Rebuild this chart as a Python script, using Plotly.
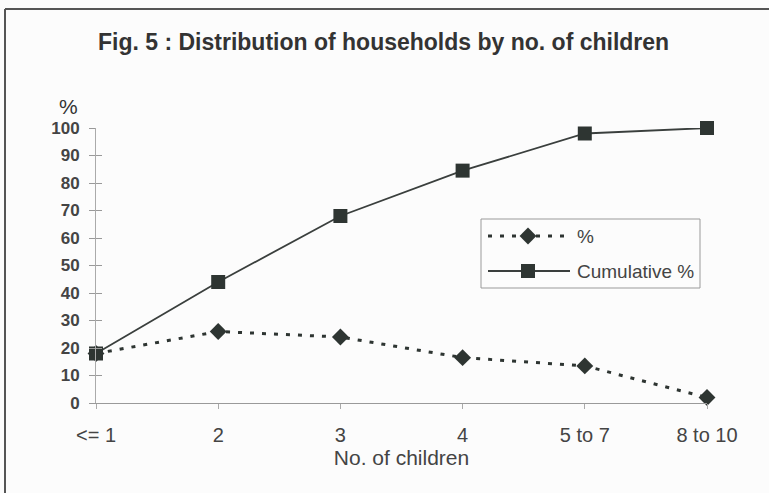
import plotly.graph_objects as go

# Household size categories and shares
categories = ["<= 1", "2", "3", "4", "5 to 7", "8 to 10"]
pct = [18, 26, 24, 16.5, 13.5, 2]
cumulative = [18, 44, 68, 84.5, 98, 100]
y_ticks = [0, 10, 20, 30, 40, 50, 60, 70, 80, 90, 100]
series_names = ["%", "Cumulative %"]

W, H = 769, 493
ML, MR, MT, MB = 96, 62, 128, 90
pw, ph = W - ML - MR, H - MT - MB

def px_x(x):
    return (x - ML) / pw

def px_y(y):
    return (H - MB - y) / ph

font = "Liberation Sans, Arial, sans-serif"
ink = "#2e3532"
dot_line = dict(color=ink, width=3, dash="4px,8px")
solid_line = dict(color="#3a3f3d", width=1.8)
diamond = dict(symbol="diamond", size=13, color=ink)
square = dict(symbol="square", size=14, color=ink)

fig = go.Figure()
fig.add_trace(go.Scatter(
    x=categories, y=pct, name=series_names[0], mode="lines+markers",
    line=dot_line, marker=diamond, cliponaxis=False, showlegend=False,
))
fig.add_trace(go.Scatter(
    x=categories, y=cumulative, name=series_names[1], mode="lines+markers",
    line=solid_line, marker=square, cliponaxis=False, showlegend=False,
))

# second y axis carries the inward half of the cross ticks
fig.add_trace(go.Scatter(x=categories, y=cumulative, yaxis="y2", mode="none",
                         showlegend=False, hoverinfo="skip"))

# legend key drawn on a pixel-unit overlay axis (x3/y3)
legend_rows = [(236, dot_line, diamond), (271, solid_line, square)]
for yy, ln, mk in legend_rows:
    fig.add_trace(go.Scatter(x=[488, 570], y=[yy, yy], xaxis="x3", yaxis="y3",
                             mode="lines", line=ln, showlegend=False,
                             hoverinfo="skip", cliponaxis=False))
    fig.add_trace(go.Scatter(x=[528], y=[yy], xaxis="x3", yaxis="y3",
                             mode="markers", marker=mk, showlegend=False,
                             hoverinfo="skip", cliponaxis=False))

legend_text = [
    dict(text=name, xref="paper", yref="paper", x=px_x(575), y=px_y(yy),
         xanchor="left", yanchor="middle", showarrow=False,
         font=dict(size=19, color="#444", family=font))
    for name, (yy, _, _) in zip(series_names, legend_rows)
]

fig.update_layout(
    width=W, height=H,
    margin=dict(l=ML, r=MR, t=MT, b=MB),
    paper_bgcolor="#fcfcfc", plot_bgcolor="rgba(0,0,0,0)",
    font=dict(family=font, color="#3a3a3a"),
    showlegend=False,
    xaxis=dict(
        type="category", range=[0, 5], showgrid=False, zeroline=False,
        showline=True, linecolor="#9a9a9a", linewidth=1,
        ticks="outside", ticklen=5, tickcolor="#aaa", ticklabelstandoff=9,
        tickfont=dict(size=20, color="#444"),
        title=dict(text="No. of children", font=dict(size=21, color="#444"), standoff=0),
    ),
    yaxis=dict(
        range=[0, 100], tickvals=y_ticks, showgrid=False, zeroline=False,
        showline=True, linecolor="#aaa", linewidth=1,
        ticks="outside", ticklen=6, tickcolor="#999", ticklabelstandoff=6,
        tickfont=dict(size=17, color="#444", weight="bold"),
    ),
    yaxis2=dict(
        range=[0, 100], tickvals=y_ticks, overlaying="y", side="left",
        showgrid=False, zeroline=False, showline=False,
        ticks="inside", ticklen=6, tickcolor="#999", showticklabels=False,
    ),
    xaxis3=dict(range=[ML, W - MR], overlaying="x", visible=False, anchor="y3"),
    yaxis3=dict(range=[H - MB, MT], overlaying="y", visible=False, anchor="x3"),
    annotations=[
        dict(text="Fig. 5 : Distribution of households by no. of children",
             xref="paper", yref="paper", x=px_x(383), y=px_y(42),
             xanchor="center", yanchor="middle", showarrow=False,
             font=dict(size=23, color="#333", family=font, weight="bold")),
        dict(text="%", xref="paper", yref="paper", x=px_x(68), y=px_y(107),
             xanchor="center", yanchor="middle", showarrow=False,
             font=dict(size=21, color="#333", family=font)),
    ] + legend_text,
    shapes=[
        dict(type="line", xref="paper", yref="paper",
             x0=px_x(5), x1=px_x(769), y0=px_y(9), y1=px_y(9),
             line=dict(color="#555", width=2)),
        dict(type="line", xref="paper", yref="paper",
             x0=px_x(5), x1=px_x(5), y0=px_y(9), y1=px_y(493),
             line=dict(color="#555", width=2)),
        dict(type="rect", xref="paper", yref="paper",
             x0=px_x(481), x1=px_x(700), y0=px_y(219), y1=px_y(288),
             line=dict(color="#9a9a9a", width=1)),
    ],
)

fig.write_html("out.html")
